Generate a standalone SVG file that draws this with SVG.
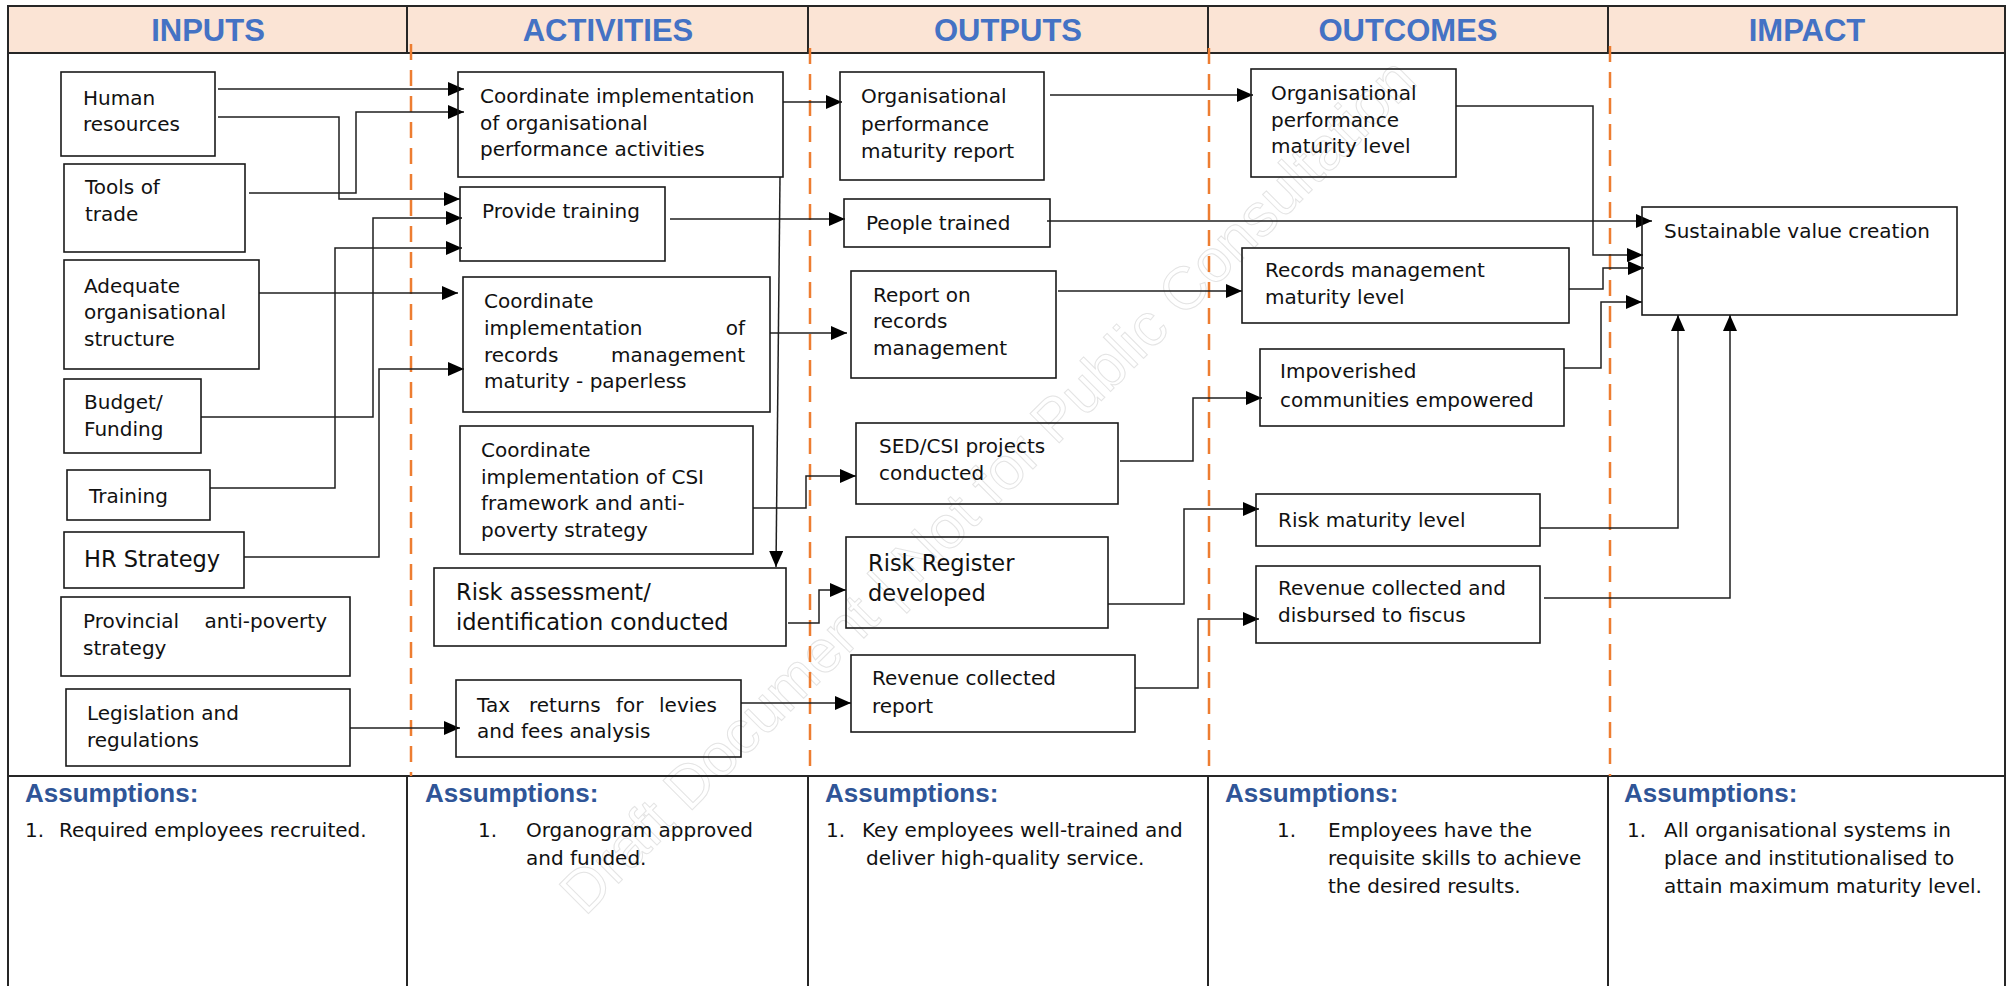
<svg xmlns="http://www.w3.org/2000/svg" width="2009" height="986" viewBox="0 0 2009 986">
  <style>
    .box { fill: none; stroke: #1a1a1a; stroke-width: 1.6; }
    .t { font-family: "DejaVu Sans", "Liberation Sans", sans-serif; font-size: 20px; fill: #111111; }
    .tl { font-size: 22.5px; }
    .hd { font-family: "Liberation Sans", Arial, sans-serif; font-weight: bold; font-size: 31px; fill: #4472C4; text-anchor: middle; }
    .as { font-family: "Liberation Sans", Arial, sans-serif; font-weight: bold; font-size: 26px; fill: #2F5597; }
    .grid { fill: none; stroke: #262626; stroke-width: 2; }
    .dash { fill: none; stroke: #ED7D31; stroke-width: 2.5; stroke-dasharray: 16 10; }
    .conn { fill: none; stroke: #1f1f1f; stroke-width: 1.5; marker-end: url(#arr); }
    .wm { font-family: "Liberation Sans", Arial, sans-serif; font-size: 60px; fill: none; stroke: #e4e4e4; stroke-width: 1; }
  </style>
  <defs>
    <marker id="arr" viewBox="0 0 16 14" refX="16" refY="7" markerWidth="16" markerHeight="14" markerUnits="userSpaceOnUse" orient="auto">
      <path d="M0,0 L16,7 L0,14 z" fill="#000"/>
    </marker>
  </defs>

  <rect width="2009" height="986" fill="#ffffff"/>

  <!-- watermark -->
  <text class="wm" transform="translate(585,917) rotate(-45)">Draft Document | Not for Public Consultation</text>

  <!-- table frame -->
  <g id="frame">
    <rect x="8" y="6" width="1997" height="47" fill="#FBE4D5"/>
    <path class="grid" d="M8,990 V6 H2005 V990 M8,53 H2005 M8,776 H2005"/>
    <path class="grid" d="M407,6 V53 M808,6 V53 M1208,6 V53 M1608,6 V53"/>
    <path class="grid" d="M407,776 V990 M808,776 V990 M1208,776 V990 M1608,776 V990"/>
    <path class="dash" d="M411,44 V776 M810,48 V776 M1209,48 V776 M1610,46 V776"/>
    <text class="hd" x="208" y="40.5">INPUTS</text>
    <text class="hd" x="608" y="40.5">ACTIVITIES</text>
    <text class="hd" x="1008" y="40.5">OUTPUTS</text>
    <text class="hd" x="1408" y="40.5">OUTCOMES</text>
    <text class="hd" x="1807" y="40.5">IMPACT</text>
  </g>

  <!-- connectors -->
  <g id="connectors">
    <path class="conn" d="M218,89 H464"/>
    <path class="conn" d="M218,117 H339 V199 H460"/>
    <path class="conn" d="M249,193 H356 V112 H464"/>
    <path class="conn" d="M201,417 H373 V218 H462"/>
    <path class="conn" d="M210,488 H335 V248 H462"/>
    <path class="conn" d="M259,293 H458"/>
    <path class="conn" d="M244,557 H379 V369 H464"/>
    <path class="conn" d="M350,728 H460"/>
    <path class="conn" d="M783,102 H842"/>
    <path class="conn" d="M670,219 H845"/>
    <path class="conn" d="M770,333 H847"/>
    <path class="conn" d="M753,508 H806 V476 H856"/>
    <path class="conn" d="M780,177 L776,567"/>
    <path class="conn" d="M788,623 H819 V590 H846"/>
    <path class="conn" d="M741,703 H851"/>
    <path class="conn" d="M1050,95 H1253"/>
    <path class="conn" d="M1047,221 H1652"/>
    <path class="conn" d="M1058,291 H1242"/>
    <path class="conn" d="M1120,461 H1193 V398 H1262"/>
    <path class="conn" d="M1108,604 H1184 V509 H1259"/>
    <path class="conn" d="M1135,688 H1198 V619 H1259"/>
    <path class="conn" d="M1456,106 H1593 V255 H1643"/>
    <path class="conn" d="M1569,289 H1603 V268 H1644"/>
    <path class="conn" d="M1564,368 H1601 V302 H1642"/>
    <path class="conn" d="M1540,528 H1678 V315"/>
    <path class="conn" d="M1544,598 H1730 V315"/>
  </g>

  <!-- inputs -->
  <g id="in-human-resources">
    <rect class="box" x="61" y="72" width="154" height="84"/>
    <text class="t" x="83" y="105">Human</text>
    <text class="t" x="83" y="131">resources</text>
  </g>
  <g id="in-tools-of-trade">
    <rect class="box" x="64" y="164" width="181" height="88"/>
    <text class="t" x="85" y="194">Tools of</text>
    <text class="t" x="85" y="221">trade</text>
  </g>
  <g id="in-structure">
    <rect class="box" x="64" y="260" width="195" height="109"/>
    <text class="t" x="84" y="293">Adequate</text>
    <text class="t" x="84" y="319">organisational</text>
    <text class="t" x="84" y="346">structure</text>
  </g>
  <g id="in-budget">
    <rect class="box" x="64" y="379" width="137" height="74"/>
    <text class="t" x="84" y="409">Budget/</text>
    <text class="t" x="84" y="436">Funding</text>
  </g>
  <g id="in-training">
    <rect class="box" x="67" y="470" width="143" height="50"/>
    <text class="t" x="89" y="503">Training</text>
  </g>
  <g id="in-hr-strategy">
    <rect class="box" x="64" y="532" width="180" height="56"/>
    <text class="t tl" x="84" y="567">HR Strategy</text>
  </g>
  <g id="in-provincial-strategy">
    <rect class="box" x="61" y="597" width="289" height="79"/>
    <text class="t" x="83" y="628">Provincial</text>
    <text class="t" x="327" y="628" text-anchor="end">anti-poverty</text>
    <text class="t" x="83" y="655">strategy</text>
  </g>
  <g id="in-legislation">
    <rect class="box" x="66" y="689" width="284" height="77"/>
    <text class="t" x="87" y="720">Legislation and</text>
    <text class="t" x="87" y="747">regulations</text>
  </g>

  <!-- activities -->
  <g id="act-org-performance">
    <rect class="box" x="458" y="72" width="325" height="105"/>
    <text class="t" x="480" y="103">Coordinate implementation</text>
    <text class="t" x="480" y="130">of organisational</text>
    <text class="t" x="480" y="156">performance activities</text>
  </g>
  <g id="act-training">
    <rect class="box" x="460" y="187" width="205" height="74"/>
    <text class="t" x="482" y="218">Provide training</text>
  </g>
  <g id="act-records">
    <rect class="box" x="463" y="277" width="307" height="135"/>
    <text class="t" x="484" y="308">Coordinate</text>
    <text class="t" x="484" y="335">implementation</text>
    <text class="t" x="745" y="335" text-anchor="end">of</text>
    <text class="t" x="484" y="362">records</text>
    <text class="t" x="745" y="362" text-anchor="end">management</text>
    <text class="t" x="484" y="388">maturity - paperless</text>
  </g>
  <g id="act-csi">
    <rect class="box" x="460" y="426" width="293" height="128"/>
    <text class="t" x="481" y="457">Coordinate</text>
    <text class="t" x="481" y="483.5">implementation of CSI</text>
    <text class="t" x="481" y="510">framework and anti-</text>
    <text class="t" x="481" y="536.5">poverty strategy</text>
  </g>
  <g id="act-risk">
    <rect class="box" x="434" y="568" width="352" height="78"/>
    <text class="t tl" x="456" y="600">Risk assessment/</text>
    <text class="t tl" x="456" y="630">identification conducted</text>
  </g>
  <g id="act-tax">
    <rect class="box" x="456" y="680" width="285" height="77"/>
    <text class="t" x="477" y="712">Tax</text>
    <text class="t" x="529" y="712">returns</text>
    <text class="t" x="616" y="712">for</text>
    <text class="t" x="717" y="712" text-anchor="end">levies</text>
    <text class="t" x="477" y="738">and fees analysis</text>
  </g>

  <!-- outputs -->
  <g id="out-org-report">
    <rect class="box" x="840" y="72" width="204" height="108"/>
    <text class="t" x="861" y="103">Organisational</text>
    <text class="t" x="861" y="131">performance</text>
    <text class="t" x="861" y="158">maturity report</text>
  </g>
  <g id="out-people-trained">
    <rect class="box" x="844" y="199" width="206" height="48"/>
    <text class="t" x="866" y="230">People trained</text>
  </g>
  <g id="out-records-report">
    <rect class="box" x="851" y="271" width="205" height="107"/>
    <text class="t" x="873" y="302">Report on</text>
    <text class="t" x="873" y="328">records</text>
    <text class="t" x="873" y="355">management</text>
  </g>
  <g id="out-sed-csi">
    <rect class="box" x="856" y="423" width="262" height="81"/>
    <text class="t" x="879" y="453">SED/CSI projects</text>
    <text class="t" x="879" y="480">conducted</text>
  </g>
  <g id="out-risk-register">
    <rect class="box" x="846" y="537" width="262" height="91"/>
    <text class="t tl" x="868" y="571">Risk Register</text>
    <text class="t tl" x="868" y="601">developed</text>
  </g>
  <g id="out-revenue-report">
    <rect class="box" x="851" y="655" width="284" height="77"/>
    <text class="t" x="872" y="685">Revenue collected</text>
    <text class="t" x="872" y="713">report</text>
  </g>

  <!-- outcomes -->
  <g id="oc-org-maturity">
    <rect class="box" x="1251" y="69" width="205" height="108"/>
    <text class="t" x="1271" y="100">Organisational</text>
    <text class="t" x="1271" y="127">performance</text>
    <text class="t" x="1271" y="153">maturity level</text>
  </g>
  <g id="oc-records-maturity">
    <rect class="box" x="1242" y="248" width="327" height="75"/>
    <text class="t" x="1265" y="277">Records management</text>
    <text class="t" x="1265" y="304">maturity level</text>
  </g>
  <g id="oc-communities">
    <rect class="box" x="1260" y="349" width="304" height="77"/>
    <text class="t" x="1280" y="378">Impoverished</text>
    <text class="t" x="1280" y="407">communities empowered</text>
  </g>
  <g id="oc-risk-maturity">
    <rect class="box" x="1256" y="494" width="284" height="52"/>
    <text class="t" x="1278" y="527">Risk maturity level</text>
  </g>
  <g id="oc-revenue">
    <rect class="box" x="1256" y="566" width="284" height="77"/>
    <text class="t" x="1278" y="595">Revenue collected and</text>
    <text class="t" x="1278" y="622">disbursed to fiscus</text>
  </g>

  <!-- impact -->
  <g id="im-value-creation">
    <rect class="box" x="1642" y="207" width="315" height="108"/>
    <text class="t" x="1664" y="238">Sustainable value creation</text>
  </g>

  <!-- assumptions row -->
  <g id="assumptions">
    <text class="as" x="25" y="802">Assumptions:</text>
    <text class="t" x="25" y="837">1.</text>
    <text class="t" x="59" y="837">Required employees recruited.</text>

    <text class="as" x="425" y="802">Assumptions:</text>
    <text class="t" x="478" y="837">1.</text>
    <text class="t" x="526" y="837">Organogram approved</text>
    <text class="t" x="526" y="865">and funded.</text>

    <text class="as" x="825" y="802">Assumptions:</text>
    <text class="t" x="826" y="837">1.</text>
    <text class="t" x="862" y="837">Key employees well-trained and</text>
    <text class="t" x="866" y="865">deliver high-quality service.</text>

    <text class="as" x="1225" y="802">Assumptions:</text>
    <text class="t" x="1277" y="837">1.</text>
    <text class="t" x="1328" y="837">Employees have the</text>
    <text class="t" x="1328" y="865">requisite skills to achieve</text>
    <text class="t" x="1328" y="893">the desired results.</text>

    <text class="as" x="1624" y="802">Assumptions:</text>
    <text class="t" x="1627" y="837">1.</text>
    <text class="t" x="1664" y="837">All organisational systems in</text>
    <text class="t" x="1664" y="865">place and institutionalised to</text>
    <text class="t" x="1664" y="893">attain maximum maturity level.</text>
  </g>
</svg>
